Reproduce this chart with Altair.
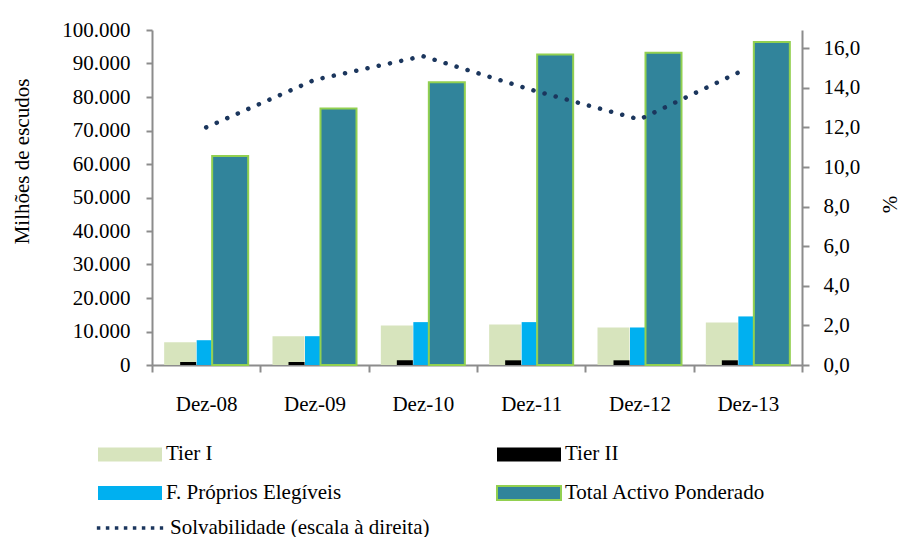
import altair as alt
import pandas as pd

cats = ["Dez-08", "Dez-09", "Dez-10", "Dez-11", "Dez-12", "Dez-13"]
tier1 = [6800, 8600, 11800, 12100, 11200, 12700]
tier2 = [900, 900, 1400, 1400, 1400, 1400]
fproprios = [7400, 8600, 12800, 12800, 11200, 14500]
total = [62400, 76600, 84400, 92700, 93200, 96400]
solv = [12.0, 14.4, 15.6, 13.9, 12.4, 15.0]

# legend order (column-major layout in a 2-column grid gives rows:
# Tier I | Tier II  /  F. Próprios Elegíveis | Total Activo Ponderado)
series = ["Tier I", "F. Próprios Elegíveis", "Tier II", "Total Activo Ponderado"]
fills = ["#D7E4BD", "#00B0F0", "#000000", "#31849B"]
strokes = ["transparent", "transparent", "transparent", "#92D050"]
line_name = "Solvabilidade (escala à direita)"

rows = []
for name, vals in zip(["Tier I", "Tier II", "F. Próprios Elegíveis", "Total Activo Ponderado"],
                      [tier1, tier2, fproprios, total]):
    for c, v in zip(cats, vals):
        rows.append({"cat": c, "serie": name, "valor": v})
bars_df = pd.DataFrame(rows)
line_df = pd.DataFrame({"cat": cats, "solv": solv, "serie": line_name})

FONT = "Liberation Serif"
FS = 21
AX = "#8c8c8c"

xenc = alt.X("cat:N", sort=cats, title=None,
             scale=alt.Scale(paddingInner=0, paddingOuter=0),
             axis=alt.Axis(tickBand="extent", labelAngle=0, labelPadding=21, tickSize=7,
                           domainColor=AX, tickColor=AX, domainWidth=2, tickWidth=2))

yscale = alt.Scale(domain=[0, 100000], nice=False)
yaxis = alt.Axis(values=list(range(0, 100001, 10000)), grid=False, tickSize=6, labelPadding=16,
                 labelExpr="replace(format(datum.value, ','), ',', '.')",
                 title="Milhões de escudos", titleFontWeight="normal", titleX=-130, titleY=131,
                 titleAngle=-90, titleAlign="center", titleBaseline="middle",
                 domainColor=AX, tickColor=AX, domainWidth=2, tickWidth=2)

def bar_legend():
    return alt.Legend(title=None, orient="none", legendX=-39, legendY=407,
                      columns=2, columnPadding=151, rowPadding=10, labelLimit=500,
                      symbolType="M-2,-0.44H2V0.44H-2Z", symbolSize=1024,
                      symbolStrokeWidth=2, labelOffset=19, padding=0)

color = alt.Color("serie:N", scale=alt.Scale(domain=series, range=fills), legend=bar_legend())
stroke = alt.Stroke("serie:N", scale=alt.Scale(domain=series, range=strokes), legend=bar_legend())

def bar_layer(name, size, offset, sw):
    return alt.Chart(bars_df).transform_filter(alt.datum.serie == name).mark_bar(
        size=size, xOffset=offset, strokeWidth=sw
    ).encode(
        x=xenc,
        y=alt.Y("valor:Q", scale=yscale, axis=yaxis),
        color=color,
        stroke=stroke,
    )

b1 = bar_layer("Tier I", 32, -26, 0)
b2 = bar_layer("Tier II", 16, -18, 0)
b3 = bar_layer("F. Próprios Elegíveis", 15, -2, 0)
b4 = bar_layer("Total Activo Ponderado", 36, 24, 2)

bars = alt.layer(b1, b2, b3, b4)

line = alt.Chart(line_df).mark_line(
    color="#1B365D", strokeWidth=4.5, strokeDash=[0.1, 11.4], strokeCap="round"
).encode(
    x=xenc,
    y=alt.Y("solv:Q", scale=alt.Scale(domain=[0, 16.92], nice=False),
            axis=alt.Axis(orient="right", values=list(range(0, 17, 2)), grid=False, tickSize=7,
                          labelPadding=14,
                          labelExpr="replace(format(datum.value, '.1f'), '.', ',')",
                          title="%", titleFontWeight="normal", titleX=88, titleY=174,
                          titleAngle=-90, titleAlign="center", titleBaseline="middle",
                          domainColor=AX, tickColor=AX, domainWidth=2, tickWidth=2)),
    opacity=alt.Opacity("serie:N", scale=alt.Scale(domain=[line_name], range=[1]),
                        legend=alt.Legend(title=None, orient="none", legendX=-57, legendY=463,
                                          symbolType="stroke", symbolSize=4400, labelLimit=500,
                                          symbolStrokeColor="#1B365D", symbolStrokeWidth=3.5,
                                          symbolDash=[3.5, 5.5], labelOffset=5, padding=0)),
)

chart = alt.layer(bars, line).resolve_scale(y="independent").properties(
    width=650, height=335,
    autosize=alt.AutoSizeParams(type="none"),
    padding={"left": 144, "top": 22, "right": 97, "bottom": 172},
).configure_view(stroke=None).configure_axis(
    labelFont=FONT, labelFontSize=FS, titleFont=FONT, titleFontSize=FS,
    labelColor="#000000", titleColor="#000000",
).configure_legend(
    labelFont=FONT, labelFontSize=FS, labelColor="#000000",
)

chart.save("out.html", embed_options={"renderer": "svg", "actions": False})
